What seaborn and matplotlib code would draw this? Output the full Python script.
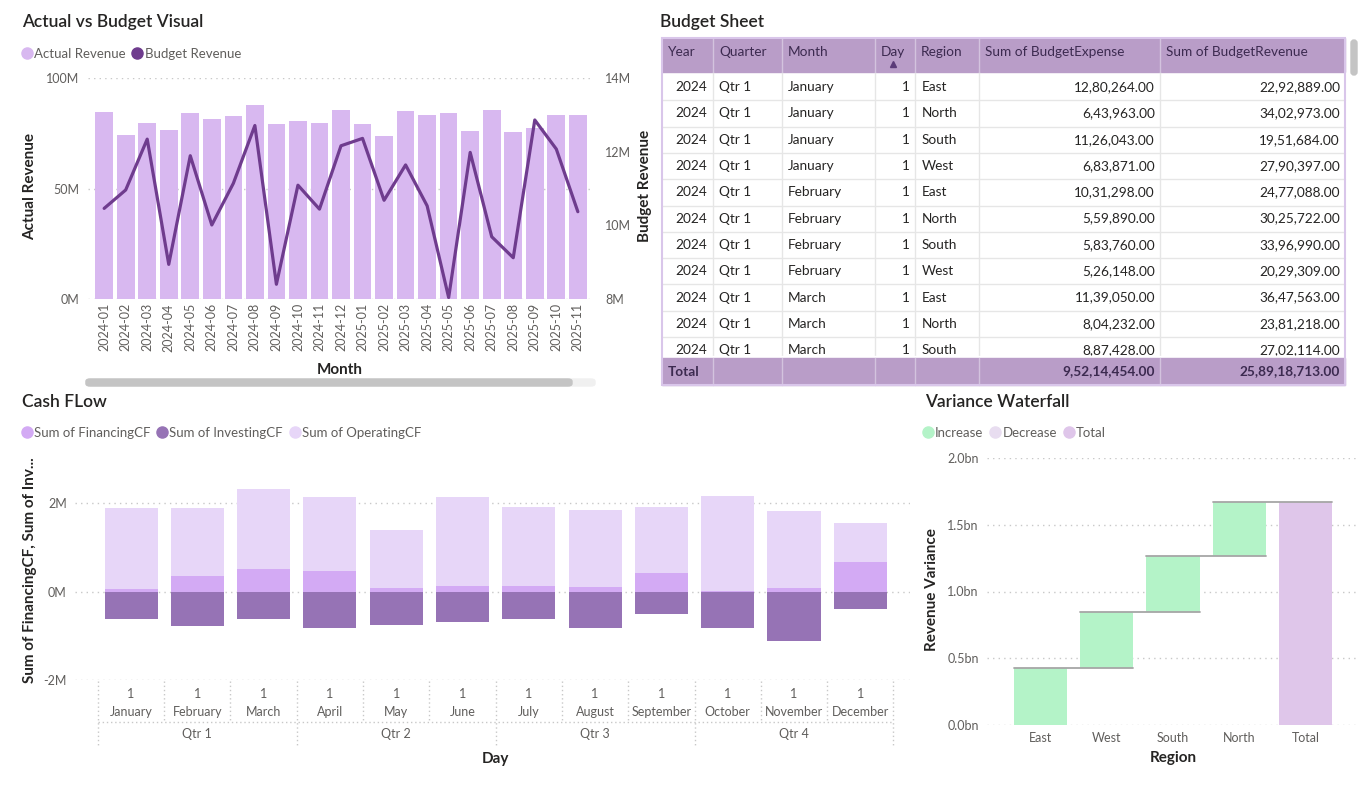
import numpy as np
import pandas as pd
import matplotlib
matplotlib.use("Agg")
import matplotlib.pyplot as plt
import seaborn as sns
from matplotlib.lines import Line2D
from matplotlib.patches import Rectangle, FancyBboxPatch
from matplotlib import transforms

W, H = 1366, 791

# ---------------- data ----------------
months = ["2024-01", "2024-02", "2024-03", "2024-04", "2024-05", "2024-06",
          "2024-07", "2024-08", "2024-09", "2024-10", "2024-11", "2024-12",
          "2025-01", "2025-02", "2025-03", "2025-04", "2025-05", "2025-06",
          "2025-07", "2025-08", "2025-09", "2025-10", "2025-11"]
actual_rev = [84.6, 74.2, 79.6, 76.4, 84.1, 81.4, 82.8, 87.8, 79.2, 80.5, 79.6, 85.5,
              79.2, 73.7, 85.0, 83.2, 84.1, 76.0, 85.5, 75.5, 77.3, 83.2, 83.2]   # M
budget_rev = [10.46, 10.96, 12.34, 8.94, 11.89, 10.01, 11.14, 12.71, 8.40, 11.09, 10.44, 12.16,
              12.36, 10.68, 11.64, 10.53, 8.04, 11.98, 9.69, 9.12, 12.86, 12.07, 10.37]  # M

cf_months = ["January", "February", "March", "April", "May", "June", "July",
             "August", "September", "October", "November", "December"]
cf_days = [1] * 12
quarters = ["Qtr 1", "Qtr 2", "Qtr 3", "Qtr 4"]
financing_cf = [0.07, 0.36, 0.52, 0.47, 0.09, 0.13, 0.13, 0.11, 0.43, 0.02, 0.09, 0.67]
investing_cf = [-0.62, -0.78, -0.62, -0.82, -0.76, -0.69, -0.62, -0.82, -0.51, -0.82, -1.12, -0.40]
operating_cf = [1.82, 1.53, 1.79, 1.66, 1.30, 2.00, 1.78, 1.73, 1.48, 2.14, 1.73, 0.88]

regions = ["East", "West", "South", "North"]
region_var = [0.424, 0.426, 0.419, 0.404]   # bn

tbl_cols = ["Year", "Quarter", "Month", "Day", "Region",
            "Sum of BudgetExpense", "Sum of BudgetRevenue"]
tbl_year = [2024] * 11
tbl_quarter = ["Qtr 1"] * 11
tbl_month = ["January"] * 4 + ["February"] * 4 + ["March"] * 3
tbl_day = [1] * 11
tbl_region = ["East", "North", "South", "West", "East", "North", "South", "West",
              "East", "North", "South"]
tbl_expense = [1280264, 643963, 1126043, 683871, 1031298, 559890, 583760, 526148,
               1139050, 804232, 887428]
tbl_revenue = [2292889, 3402973, 1951684, 2790397, 2477088, 3025722, 3396990, 2029309,
               3647563, 2381218, 2702114]
tbl_total_expense = 95214454
tbl_total_revenue = 258918713

# ---------------- style ----------------
BAR = "#D8B8F0"
LINE = "#6F3C8E"
OPER = "#E7D6F8"
FIN = "#D3AAF4"
INV = "#9673B5"
INC = "#B4F3C8"
DEC = "#E8DDF0"
TOT = "#DFC6EA"
TXT = "#252423"
TICK = "#605E5C"
GRID = "#C8C8C8"
HDR = "#B99DC8"
AXT = 11  # axis title size

sns.set_theme(style="white")
plt.rcParams["font.family"] = ["Lato", "DejaVu Sans"]

fig = plt.figure(figsize=(W / 100, H / 100), dpi=100)


def px_axes(x0, y0, x1, y1):
    return fig.add_axes([x0 / W, 1 - y1 / H, (x1 - x0) / W, (y1 - y0) / H])


def fx(x):
    return x / W


def fy(y):
    return 1 - y / H


def clean(ax):
    for s in ax.spines.values():
        s.set_visible(False)
    ax.tick_params(length=0, colors=TICK, labelsize=9)
    ax.set_xlabel("")
    ax.set_ylabel("")


def legend(items, x, y):
    hs = [Line2D([], [], marker="o", ls="", color=c, markersize=8) for _, c in items]
    fig.legend(hs, [n for n, _ in items], loc="center left",
               bbox_to_anchor=(fx(x), fy(y)), ncol=len(items), frameon=False,
               handletextpad=0.05, columnspacing=0.4, handlelength=1.0,
               borderpad=0, borderaxespad=0, fontsize=9.5, labelcolor=TICK)


def inr(v):
    ip, dp = f"{v:.2f}".split(".")
    head, tail = ip[:-3], ip[-3:]
    groups = []
    while len(head) > 2:
        groups.insert(0, head[-2:])
        head = head[:-2]
    if head:
        groups.insert(0, head)
    return ",".join(groups + [tail]) + "." + dp


# ---------------- Actual vs Budget ----------------
fig.text(fx(22), fy(22), "Actual vs Budget Visual", fontsize=12.5, color=TXT,
         va="center", ha="left", fontweight="semibold")
legend([("Actual Revenue", BAR), ("Budget Revenue", LINE)], 20, 54)

ab = pd.DataFrame({"Month": months, "Actual": actual_rev, "Budget": budget_rev,
                   "pos": np.arange(len(months))})
ax1 = px_axes(88, 78, 594, 299)
sns.barplot(data=ab, x="Month", y="Actual", color=BAR, saturation=1, width=0.82,
            errorbar=None, linewidth=0, ax=ax1)
ax1.set_ylim(0, 100)
ax1.set_yticks([0, 50, 100])
ax1.set_yticklabels(["0M", "50M", "100M"])
ax1.set_xlim(-0.75, len(months) - 0.25)
ax1.grid(axis="y", color=GRID, linestyle=(0, (1, 3)), linewidth=1)
ax1.set_axisbelow(True)
clean(ax1)
ax1.tick_params(axis="x", rotation=90, pad=3)
ax1.tick_params(axis="y", pad=6)

ax1b = ax1.twinx()
sns.lineplot(data=ab, x="pos", y="Budget", color=LINE, linewidth=2.3, ax=ax1b)
ax1b.set_ylim(8, 14)
ax1b.set_yticks([8, 10, 12, 14])
ax1b.set_yticklabels(["8M", "10M", "12M", "14M"])
ax1b.set_xlim(-0.75, len(months) - 0.25)
clean(ax1b)
ax1b.tick_params(axis="y", pad=8)

fig.text(fx(30), fy(186), "Actual Revenue", rotation=90, fontsize=AXT, color=TXT,
         fontweight="bold", va="center", ha="center")
fig.text(fx(645), fy(186), "Budget Revenue", rotation=90, fontsize=AXT, color=TXT,
         fontweight="bold", va="center", ha="center")
fig.text(fx(340), fy(370), "Month", fontsize=AXT, color=TXT, fontweight="bold",
         va="center", ha="center")
fig.patches.append(FancyBboxPatch((fx(86), fy(386)), fx(509), 7 / H,
                                  boxstyle="round,pad=0,rounding_size=0.003",
                                  transform=fig.transFigure, color="#F0F0F0"))
fig.patches.append(FancyBboxPatch((fx(86), fy(386)), fx(486), 7 / H,
                                  boxstyle="round,pad=0,rounding_size=0.003",
                                  transform=fig.transFigure, color="#C4C4C4"))

# ---------------- Budget Sheet table ----------------
fig.text(fx(660), fy(22), "Budget Sheet", fontsize=12.5, color=TXT,
         va="center", ha="left", fontweight="semibold")
axt = px_axes(660, 36, 1348, 388)
axt.set_xlim(660, 1348)
axt.set_ylim(388, 36)
axt.axis("off")
col_x = [662, 713, 782, 875, 915, 979, 1160, 1345]
hdr_top, hdr_bot = 38, 72
row_top, row_h = 74, 26.3
tot_top, tot_bot = 358, 385
HTXT = "#3C2A50"
FS = 9.8

axt.add_patch(Rectangle((662, hdr_top), 683, hdr_bot - hdr_top, color=HDR, zorder=1))
for i, name in enumerate(tbl_cols):
    axt.text(col_x[i] + 6, 52, name, fontsize=FS, color=HTXT, va="center", ha="left", zorder=3)
    if i > 0:
        axt.plot([col_x[i]] * 2, [hdr_top, hdr_bot], color="#D3C3DE", lw=1, zorder=2)
axt.plot([893], [64], marker="^", color="#5B3B78", markersize=4.5, zorder=3)

rows = list(zip(tbl_year, tbl_quarter, tbl_month, tbl_day, tbl_region, tbl_expense, tbl_revenue))
for r, (yr, q, m, d, reg, ex, rv) in enumerate(rows):
    cy = row_top + r * row_h + row_h / 2
    yb = row_top + (r + 1) * row_h
    axt.plot([662, 1345], [yb, yb], color="#E6E6E6", lw=1, zorder=1)
    axt.text(col_x[1] - 6, cy, str(yr), fontsize=FS, color=TXT, va="center", ha="right")
    axt.text(col_x[1] + 6, cy, q, fontsize=FS, color=TXT, va="center", ha="left")
    axt.text(col_x[2] + 6, cy, m, fontsize=FS, color=TXT, va="center", ha="left")
    axt.text(col_x[4] - 5, cy, str(d), fontsize=FS, color=TXT, va="center", ha="right")
    axt.text(col_x[4] + 7, cy, reg, fontsize=FS, color=TXT, va="center", ha="left")
    axt.text(col_x[6] - 5, cy, inr(ex), fontsize=FS, color=TXT, va="center", ha="right")
    axt.text(col_x[7] - 5, cy, inr(rv), fontsize=FS, color=TXT, va="center", ha="right")
for xv in col_x[1:-1]:
    axt.plot([xv, xv], [hdr_bot, tot_top], color="#E6E6E6", lw=1, zorder=1)

axt.add_patch(Rectangle((662, tot_top - 2), 683, 30, color="white", zorder=4))
axt.add_patch(Rectangle((662, tot_top), 683, tot_bot - tot_top, color=HDR, zorder=5))
for xv in col_x[1:-1]:
    axt.plot([xv, xv], [tot_top, tot_bot], color="#D3C3DE", lw=1, zorder=6)
axt.text(col_x[0] + 6, (tot_top + tot_bot) / 2, "Total", fontsize=FS, color=HTXT,
         fontweight="bold", va="center", ha="left", zorder=7)
axt.text(col_x[6] - 5, (tot_top + tot_bot) / 2, inr(tbl_total_expense), fontsize=FS,
         color=HTXT, fontweight="bold", va="center", ha="right", zorder=7)
axt.text(col_x[7] - 5, (tot_top + tot_bot) / 2, inr(tbl_total_revenue), fontsize=FS,
         color=HTXT, fontweight="bold", va="center", ha="right", zorder=7)
axt.add_patch(Rectangle((662, hdr_top), 683, tot_bot - hdr_top, fill=False,
                        edgecolor="#D9C6EA", lw=1.5, zorder=8))
axt.add_patch(FancyBboxPatch((1351, 40), 6, 35, boxstyle="round,pad=0,rounding_size=3",
                             color="#C4C4C4", zorder=8, clip_on=False))

# ---------------- Cash Flow ----------------
fig.text(fx(22), fy(402), "Cash FLow", fontsize=12.5, color=TXT,
         va="center", ha="left", fontweight="semibold")
legend([("Sum of FinancingCF", FIN), ("Sum of InvestingCF", INV),
        ("Sum of OperatingCF", OPER)], 20, 433)

cf = pd.DataFrame({"Month": cf_months, "Financing": financing_cf,
                   "Investing": investing_cf, "Operating": operating_cf})
cf["Positive"] = cf["Financing"] + cf["Operating"]
ax2 = px_axes(75, 459, 910, 680)
for col, c in [("Positive", OPER), ("Financing", FIN), ("Investing", INV)]:
    sns.barplot(data=cf, x="Month", y=col, color=c, saturation=1, width=0.8,
                errorbar=None, linewidth=0, ax=ax2)
ax2.set_ylim(-2, 3)
ax2.set_yticks([-2, 0, 2])
ax2.set_yticklabels(["-2M", "0M", "2M"])
ax2.set_xlim(-0.845, 11.75)
ax2.set_xticks([])
ax2.grid(axis="y", color=GRID, linestyle=(0, (1, 3)), linewidth=1)
ax2.set_axisbelow(True)
clean(ax2)
ax2.tick_params(axis="y", pad=6)

bt = transforms.blended_transform_factory(ax2.transData, fig.transFigure)
for i, (d, m) in enumerate(zip(cf_days, cf_months)):
    ax2.text(i, fy(694), str(d), transform=bt, fontsize=9, color=TICK, ha="center", va="center")
    ax2.text(i, fy(712), m, transform=bt, fontsize=9, color=TICK, ha="center", va="center")
for i in range(len(cf_months) + 1):
    b = i - 0.5
    yb = 746 if i % 3 == 0 else 722
    ax2.add_line(Line2D([b, b], [fy(681), fy(yb)], transform=bt, color=GRID,
                        linestyle=(0, (1, 2)), lw=1, clip_on=False))
ax2.add_line(Line2D([-0.5, len(cf_months) - 0.5], [fy(722), fy(722)], transform=bt,
                    color=GRID, linestyle=(0, (1, 2)), lw=1, clip_on=False))
for k, q in enumerate(quarters):
    ax2.text(3 * k + 1, fy(734), q, transform=bt, fontsize=9, color=TICK,
             ha="center", va="center")
fig.text(fx(495), fy(759), "Day", fontsize=AXT, color=TXT, fontweight="bold",
         va="center", ha="center")
fig.text(fx(30), fy(570), "Sum of FinancingCF, Sum of Inv...", rotation=90, fontsize=AXT,
         color=TXT, fontweight="bold", va="center", ha="center")

# ---------------- Variance Waterfall ----------------
fig.text(fx(925), fy(402), "Variance Waterfall", fontsize=12.5, color=TXT,
         va="center", ha="left", fontweight="semibold")
legend([("Increase", INC), ("Decrease", DEC), ("Total", TOT)], 921, 433)

inc = np.array(region_var)
cum = np.cumsum(inc)
wf = pd.DataFrame({"Region": regions + ["Total"],
                   "Height": list(inc) + [cum[-1]],
                   "Bottom": list(cum - inc) + [0.0]})
ax3 = px_axes(987, 458, 1357, 725)
sns.barplot(data=wf, x="Region", y="Height", color=INC, saturation=1, width=0.8,
            errorbar=None, linewidth=0, bottom=wf["Bottom"].values, ax=ax3)
ax3.patches[-1].set_facecolor(TOT)
for i, c in enumerate(cum):
    ax3.plot([i - 0.4, i + 1.4], [c, c], color="#A6A6A6", lw=1.3, zorder=3)
ax3.set_ylim(0, 2.0)
ax3.set_yticks([0, 0.5, 1.0, 1.5, 2.0])
ax3.set_yticklabels([f"{v:.1f}bn" for v in [0, 0.5, 1.0, 1.5, 2.0]])
ax3.set_xlim(-0.8, 4.77)
ax3.grid(axis="y", color=GRID, linestyle=(0, (1, 3)), linewidth=1)
ax3.set_axisbelow(True)
clean(ax3)
ax3.tick_params(axis="x", pad=5)
ax3.tick_params(axis="y", pad=6)
fig.text(fx(932), fy(590), "Revenue Variance", rotation=90, fontsize=AXT, color=TXT,
         fontweight="bold", va="center", ha="center")
fig.text(fx(1173), fy(758), "Region", fontsize=AXT, color=TXT, fontweight="bold",
         va="center", ha="center")

fig.savefig("out.png", dpi=100)
